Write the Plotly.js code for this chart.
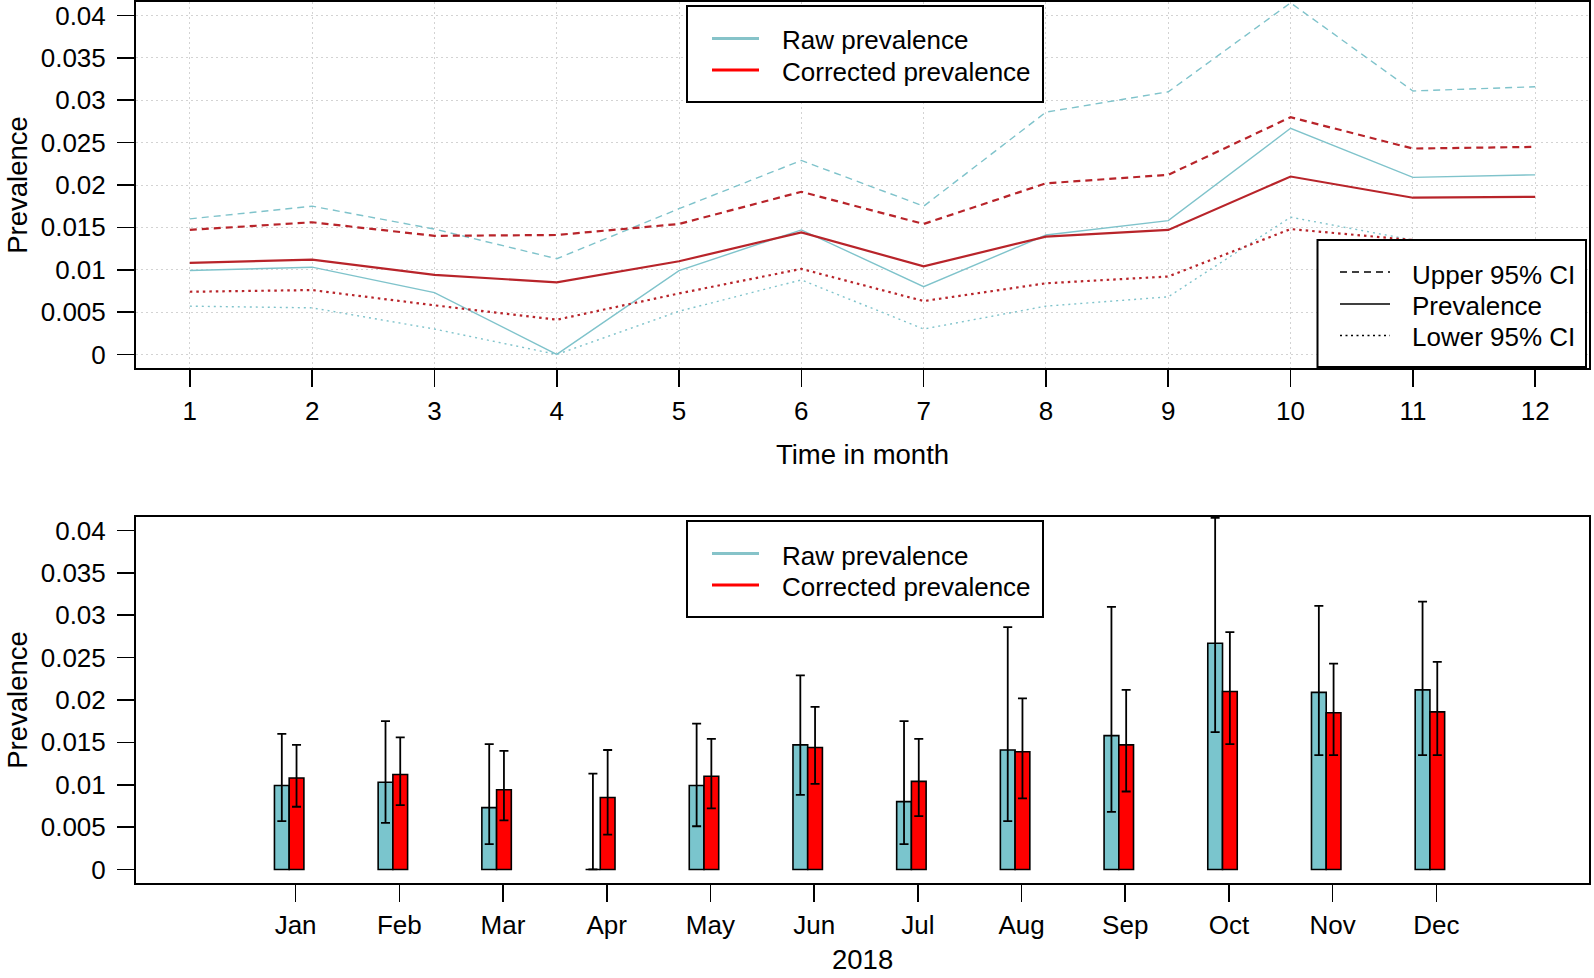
<!DOCTYPE html>
<html>
<head>
<meta charset="utf-8">
<script src="https://cdn.plot.ly/plotly-3.0.1.min.js"></script>
<style>
  html, body { margin: 0; padding: 0; background: #fff; }
  #chart { width: 1594px; height: 978px; }
</style>
</head>
<body>
<div id="chart"></div>
<script>
// ---------- data ----------
var months = [1, 2, 3, 4, 5, 6, 7, 8, 9, 10, 11, 12];
var monthLabels = ['Jan', 'Feb', 'Mar', 'Apr', 'May', 'Jun', 'Jul', 'Aug', 'Sep', 'Oct', 'Nov', 'Dec'];

var rawPrev   = [0.0099, 0.0103, 0.0073, 0.0000, 0.0099, 0.0147, 0.0080, 0.0141, 0.0158, 0.0267, 0.0209, 0.0212];
var rawLower  = [0.0057, 0.0055, 0.0030, 0.0000, 0.0051, 0.0088, 0.0030, 0.0057, 0.0068, 0.0162, 0.0135, 0.0135];
var rawUpper  = [0.0160, 0.0175, 0.0148, 0.0113, 0.0172, 0.0229, 0.0175, 0.0286, 0.0310, 0.0415, 0.0311, 0.0316];

var corrPrev  = [0.0108, 0.0112, 0.0094, 0.0085, 0.0110, 0.0144, 0.0104, 0.0139, 0.0147, 0.0210, 0.0185, 0.0186];
var corrLower = [0.0074, 0.0076, 0.0058, 0.0041, 0.0072, 0.0101, 0.0063, 0.0084, 0.0092, 0.0148, 0.0135, 0.0135];
var corrUpper = [0.0147, 0.0156, 0.0140, 0.0141, 0.0154, 0.0192, 0.0154, 0.0202, 0.0212, 0.0280, 0.0243, 0.0245];

var yTickLabels = ['0', '0.005', '0.01', '0.015', '0.02', '0.025', '0.03', '0.035', '0.04'];
var seriesNames = ['Raw prevalence', 'Corrected prevalence'];
var ciNames = ['Upper 95% CI', 'Prevalence', 'Lower 95% CI'];
var xTitleTop = 'Time in month';
var xTitleBottom = '2018';
var yTitle = 'Prevalence';

// ---------- style ----------
var FONT = '"Liberation Sans", Arial, Helvetica, sans-serif';
var CYAN_LINE = '#7fc3cb';
var RED_LINE = '#b8242a';
var CYAN_BAR = '#7ac5cd';
var RED_BAR = '#ff0000';
var W = 1594, H = 978;
var ML = 136, MR = 5, MT = 2, MB = 95;
var PW = W - ML - MR, PH = H - MT - MB;
function px(x) { return (x - ML) / PW; }
function py(y) { return (H - MB - y) / PH; }

var yTickVals = yTickLabels.map(function (s) { return parseFloat(s); });
var yRange = [-0.0016, 0.0416];

function lineTrace(y, color, width, dash) {
  return {
    type: 'scatter', mode: 'lines', x: months, y: y,
    xaxis: 'x', yaxis: 'y', showlegend: false, hoverinfo: 'skip',
    line: { color: color, width: width, dash: dash }
  };
}

function diff(a, b) { return a.map(function (v, i) { return v - b[i]; }); }

var barW = 0.142;
var traces = [
  lineTrace(rawUpper, CYAN_LINE, 1.4, '7px,5px'),
  lineTrace(rawPrev, CYAN_LINE, 1.4, 'solid'),
  lineTrace(rawLower, CYAN_LINE, 1.4, '2px,4px'),
  lineTrace(corrUpper, RED_LINE, 2.2, '7px,5px'),
  lineTrace(corrPrev, RED_LINE, 2.2, 'solid'),
  lineTrace(corrLower, RED_LINE, 2.2, '2.5px,4px'),
  {
    type: 'bar', x: months, y: rawPrev, xaxis: 'x2', yaxis: 'y2',
    width: barW, offset: -barW, showlegend: false, hoverinfo: 'skip',
    marker: { color: CYAN_BAR, line: { color: '#000', width: 1.6 } },
    error_y: { type: 'data', symmetric: false, array: diff(rawUpper, rawPrev),
      arrayminus: diff(rawPrev, rawLower), color: '#000', thickness: 1.8, width: 4.5 }
  },
  {
    type: 'bar', x: months, y: corrPrev, xaxis: 'x2', yaxis: 'y2',
    width: barW, offset: 0, showlegend: false, hoverinfo: 'skip',
    marker: { color: RED_BAR, line: { color: '#000', width: 1.6 } },
    error_y: { type: 'data', symmetric: false, array: diff(corrUpper, corrPrev),
      arrayminus: diff(corrPrev, corrLower), color: '#000', thickness: 1.8, width: 4.5 }
  }
];

var tickFont = { family: FONT, size: 26, color: '#000' };
var titleFont = { family: FONT, size: 27.5, color: '#000' };

function axisCommon() {
  return {
    showline: true, mirror: true, linecolor: '#000', linewidth: 2,
    ticks: 'outside', ticklen: 17, tickwidth: 1.6, tickcolor: '#000',
    tickfont: tickFont, zeroline: false, fixedrange: true
  };
}

var xaxis = Object.assign(axisCommon(), {
  domain: [0, 1], anchor: 'y', range: [0.56, 12.44],
  tickmode: 'array', tickvals: months, ticktext: months.map(String),
  showgrid: true, gridcolor: '#d3d3d3', gridwidth: 1, griddash: '2px,3px',
  ticklabelstandoff: 2,
  title: { text: xTitleTop, font: titleFont, standoff: 20 }
});
var yaxis = Object.assign(axisCommon(), {
  domain: [1 - 366 / PH, 1], anchor: 'x', range: yRange,
  tickmode: 'array', tickvals: yTickVals, ticktext: yTickLabels,
  showgrid: true, gridcolor: '#d3d3d3', gridwidth: 1, griddash: '2px,3px',
  ticklabelstandoff: 6,
  title: { text: yTitle, font: titleFont, standoff: 5 }
});
var xaxis2 = Object.assign(axisCommon(), {
  domain: [0, 1], anchor: 'y2', range: [-0.477, 13.534],
  tickmode: 'array', tickvals: months.map(function (m) { return m + 0.062; }), ticktext: monthLabels,
  showgrid: false, ticklabelstandoff: 1
});
var yaxis2 = Object.assign(axisCommon(), {
  domain: [0, 366 / PH], anchor: 'x2', range: yRange,
  tickmode: 'array', tickvals: yTickVals, ticktext: yTickLabels,
  showgrid: false, ticklabelstandoff: 6,
  title: { text: yTitle, font: titleFont, standoff: 5 }
});

// ---------- hand-drawn legends (R style) ----------
var shapes = [];
var annotations = [];
function box(x0, y0, x1, y1) {
  shapes.push({ type: 'rect', xref: 'paper', yref: 'paper', x0: px(x0), x1: px(x1), y0: py(y0), y1: py(y1),
    fillcolor: '#fff', line: { color: '#000', width: 2 }, layer: 'above' });
}
function sample(x0, x1, y, color, width, dash) {
  shapes.push({ type: 'line', xref: 'paper', yref: 'paper', x0: px(x0), x1: px(x1), y0: py(y), y1: py(y),
    line: { color: color, width: width, dash: dash }, layer: 'above' });
}
function label(x, y, text, anchor, font) {
  annotations.push({ xref: 'paper', yref: 'paper', x: px(x), y: py(y), xanchor: anchor || 'left', yanchor: 'middle',
    text: text, showarrow: false, font: font || { family: FONT, size: 26, color: '#000' } });
}
function seriesLegend(top) {
  box(687, top, 1043, top + 96);
  sample(712, 759, top + 32.5, '#86c3c9', 3, 'solid');
  sample(712, 759, top + 64, RED_BAR, 3, 'solid');
  label(780, top + 34.5, seriesNames[0]);
  label(780, top + 66, seriesNames[1]);
}
seriesLegend(6);
seriesLegend(521);

box(1317.5, 240, 1586, 367);
sample(1340, 1390, 272, '#000', 1.5, '7px,5px');
sample(1340, 1390, 304, '#000', 1.5, 'solid');
sample(1340, 1390, 335.5, '#000', 1.5, '2px,3.5px');
label(1410, 275, ciNames[0]);
label(1410, 306, ciNames[1]);
label(1410, 337, ciNames[2]);

// bottom x-axis title (placed as text below the month labels)
label(ML + PW / 2, 960, xTitleBottom, 'center', titleFont);

var layout = {
  width: W, height: H,
  margin: { l: ML, r: MR, t: MT, b: MB },
  paper_bgcolor: '#fff', plot_bgcolor: '#fff',
  font: { family: FONT, color: '#000' },
  showlegend: false,
  xaxis: xaxis, yaxis: yaxis, xaxis2: xaxis2, yaxis2: yaxis2,
  shapes: shapes, annotations: annotations
};

Plotly.newPlot('chart', traces, layout, { displayModeBar: false, staticPlot: true });
</script>
</body>
</html>
